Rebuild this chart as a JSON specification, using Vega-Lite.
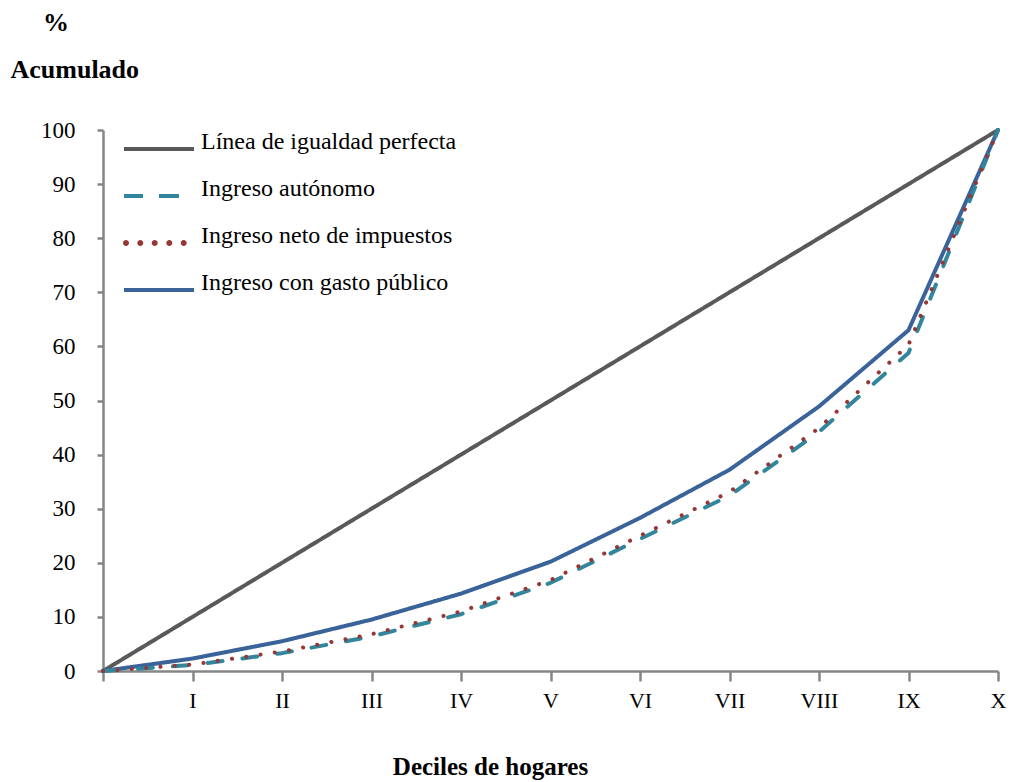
{
  "$schema": "https://vega.github.io/schema/vega-lite/v6.json",
  "width": 895,
  "height": 541,
  "autosize": {"type": "none"},
  "padding": {"left": 103, "top": 130, "right": 13, "bottom": 111},
  "background": "white",
  "config": {
    "font": "Liberation Serif",
    "view": {"stroke": null},
    "axis": {"grid": false, "domainColor": "#868686", "tickColor": "#868686", "domainWidth": 2.5, "tickWidth": 2.5, "labelColor": "#000000", "titleColor": "#000000", "labelFont": "Liberation Serif", "titleFont": "Liberation Serif"},
    "legend": {"labelFont": "Liberation Serif", "titleFont": "Liberation Serif"}
  },
  "data": {
    "values": [
      {"serie": "Línea de igualdad perfecta", "decil": 0, "valor": 0},
      {"serie": "Línea de igualdad perfecta", "decil": 1, "valor": 10},
      {"serie": "Línea de igualdad perfecta", "decil": 2, "valor": 20},
      {"serie": "Línea de igualdad perfecta", "decil": 3, "valor": 30},
      {"serie": "Línea de igualdad perfecta", "decil": 4, "valor": 40},
      {"serie": "Línea de igualdad perfecta", "decil": 5, "valor": 50},
      {"serie": "Línea de igualdad perfecta", "decil": 6, "valor": 60},
      {"serie": "Línea de igualdad perfecta", "decil": 7, "valor": 70},
      {"serie": "Línea de igualdad perfecta", "decil": 8, "valor": 80},
      {"serie": "Línea de igualdad perfecta", "decil": 9, "valor": 90},
      {"serie": "Línea de igualdad perfecta", "decil": 10, "valor": 100},
      {"serie": "Ingreso con gasto público", "decil": 0, "valor": 0},
      {"serie": "Ingreso con gasto público", "decil": 1, "valor": 2.3},
      {"serie": "Ingreso con gasto público", "decil": 2, "valor": 5.5},
      {"serie": "Ingreso con gasto público", "decil": 3, "valor": 9.5},
      {"serie": "Ingreso con gasto público", "decil": 4, "valor": 14.3},
      {"serie": "Ingreso con gasto público", "decil": 5, "valor": 20.2},
      {"serie": "Ingreso con gasto público", "decil": 6, "valor": 28.3},
      {"serie": "Ingreso con gasto público", "decil": 7, "valor": 37.2},
      {"serie": "Ingreso con gasto público", "decil": 8, "valor": 48.9},
      {"serie": "Ingreso con gasto público", "decil": 9, "valor": 63.0},
      {"serie": "Ingreso con gasto público", "decil": 10, "valor": 100},
      {"serie": "Ingreso autónomo", "decil": 0, "valor": 0},
      {"serie": "Ingreso autónomo", "decil": 1, "valor": 1.1},
      {"serie": "Ingreso autónomo", "decil": 2, "valor": 3.3},
      {"serie": "Ingreso autónomo", "decil": 3, "valor": 6.4},
      {"serie": "Ingreso autónomo", "decil": 4, "valor": 10.5},
      {"serie": "Ingreso autónomo", "decil": 5, "valor": 16.3},
      {"serie": "Ingreso autónomo", "decil": 6, "valor": 24.4},
      {"serie": "Ingreso autónomo", "decil": 7, "valor": 32.4},
      {"serie": "Ingreso autónomo", "decil": 8, "valor": 44.2},
      {"serie": "Ingreso autónomo", "decil": 9, "valor": 58.8},
      {"serie": "Ingreso autónomo", "decil": 10, "valor": 100},
      {"serie": "Ingreso neto de impuestos", "decil": 0, "valor": 0},
      {"serie": "Ingreso neto de impuestos", "decil": 1, "valor": 1.2},
      {"serie": "Ingreso neto de impuestos", "decil": 2, "valor": 3.6},
      {"serie": "Ingreso neto de impuestos", "decil": 3, "valor": 6.8},
      {"serie": "Ingreso neto de impuestos", "decil": 4, "valor": 11.0},
      {"serie": "Ingreso neto de impuestos", "decil": 5, "valor": 16.8},
      {"serie": "Ingreso neto de impuestos", "decil": 6, "valor": 25.0},
      {"serie": "Ingreso neto de impuestos", "decil": 7, "valor": 33.1},
      {"serie": "Ingreso neto de impuestos", "decil": 8, "valor": 44.9},
      {"serie": "Ingreso neto de impuestos", "decil": 9, "valor": 60.3},
      {"serie": "Ingreso neto de impuestos", "decil": 10, "valor": 100}
    ]
  },
  "encoding": {
    "x": {
      "field": "decil", "type": "quantitative",
      "scale": {"domain": [0, 10], "nice": false, "zero": false},
      "axis": {
        "values": [0, 1, 2, 3, 4, 5, 6, 7, 8, 9, 10],
        "labelExpr": "['', 'I', 'II', 'III', 'IV', 'V', 'VI', 'VII', 'VIII', 'IX', 'X'][datum.value]",
        "labelFontSize": 22, "tickSize": 10, "labelPadding": 9, "labelFlush": false,
        "title": "Deciles de hogares", "titleFontSize": 25, "titleFontWeight": "bold",
        "titleX": 387, "titleY": 103, "titleAlign": "center", "titleBaseline": "alphabetic"
      }
    },
    "y": {
      "field": "valor", "type": "quantitative",
      "scale": {"domain": [0, 100], "nice": false},
      "axis": {
        "values": [0, 10, 20, 30, 40, 50, 60, 70, 80, 90, 100],
        "labelFontSize": 23, "tickSize": 6, "labelPadding": 22,
        "title": ["\u200b\u00a0\u00a0\u00a0\u00a0\u00a0%", "Acumulado"], "titleFontSize": 26, "titleFontWeight": "bold",
        "titleAngle": 0, "titleAlign": "left", "titleBaseline": "alphabetic",
        "titleX": -93, "titleY": -100, "titleLineHeight": 47
      }
    }
  },
  "layer": [
    {
      "mark": {"type": "line", "strokeCap": "round", "strokeJoin": "round", "clip": false},
      "encoding": {
        "detail": {"field": "serie"},
        "order": {"field": "decil"},
        "stroke": {
          "field": "serie", "type": "nominal",
          "scale": {
            "domain": ["Línea de igualdad perfecta", "Ingreso con gasto público", "Ingreso autónomo", "Ingreso neto de impuestos"],
            "range": ["#595959", "#3A6399", "#31859C", "#953735"]
          },
          "legend": null
        },
        "strokeDash": {
          "field": "serie", "type": "nominal",
          "scale": {
            "domain": ["Línea de igualdad perfecta", "Ingreso con gasto público", "Ingreso autónomo", "Ingreso neto de impuestos"],
            "range": [[1, 0], [1, 0], [15, 20], [0.1, 14.3]]
          },
          "legend": null
        },
        "strokeWidth": {
          "field": "serie", "type": "nominal",
          "scale": {
            "domain": ["Línea de igualdad perfecta", "Ingreso con gasto público", "Ingreso autónomo", "Ingreso neto de impuestos"],
            "range": [4, 4, 4, 6]
          },
          "legend": null
        }
      }
    },
    {
      "mark": {"type": "point", "filled": true, "size": 0.01, "strokeWidth": 0},
      "encoding": {
        "fill": {
          "field": "serie", "type": "nominal",
          "scale": {
            "domain": ["Línea de igualdad perfecta", "Ingreso autónomo", "Ingreso neto de impuestos", "Ingreso con gasto público"],
            "range": ["#595959", "#31859C", "#953735", "#3A6399"]
          },
          "legend": {
            "title": null, "orient": "none", "legendX": 44, "legendY": 0,
            "symbolSize": 400, "symbolStrokeWidth": 0, "symbolOpacity": 1,
            "labelFontSize": 24, "labelLimit": 400, "rowPadding": 23, "labelOffset": 30,
            "labelColor": "#000000", "labelFont": "Liberation Serif"
          }
        },
        "shape": {
          "field": "serie", "type": "nominal",
          "scale": {
            "domain": ["Línea de igualdad perfecta", "Ingreso autónomo", "Ingreso neto de impuestos", "Ingreso con gasto público"],
            "range": [
              "M-3.5,0.5H3.5V0.9H-3.5Z",
              "M-3.5,0.5H-1.6V0.9H-3.5Z M0,0.5H2V0.9H0Z",
              "M-3.6,0.7a0.3,0.3 0 1,0 0.6,0a0.3,0.3 0 1,0 -0.6,0Z M-2.17,0.7a0.3,0.3 0 1,0 0.6,0a0.3,0.3 0 1,0 -0.6,0Z M-0.73,0.7a0.3,0.3 0 1,0 0.6,0a0.3,0.3 0 1,0 -0.6,0Z M0.73,0.7a0.3,0.3 0 1,0 0.6,0a0.3,0.3 0 1,0 -0.6,0Z M2.17,0.7a0.3,0.3 0 1,0 0.6,0a0.3,0.3 0 1,0 -0.6,0Z",
              "M-3.5,0.5H3.5V0.9H-3.5Z"
            ]
          },
          "legend": {
            "title": null, "orient": "none", "legendX": 44, "legendY": 0,
            "symbolSize": 400, "symbolStrokeWidth": 0, "symbolOpacity": 1,
            "labelFontSize": 24, "labelLimit": 400, "rowPadding": 23, "labelOffset": 30,
            "labelColor": "#000000", "labelFont": "Liberation Serif"
          }
        }
      }
    }
  ]
}
